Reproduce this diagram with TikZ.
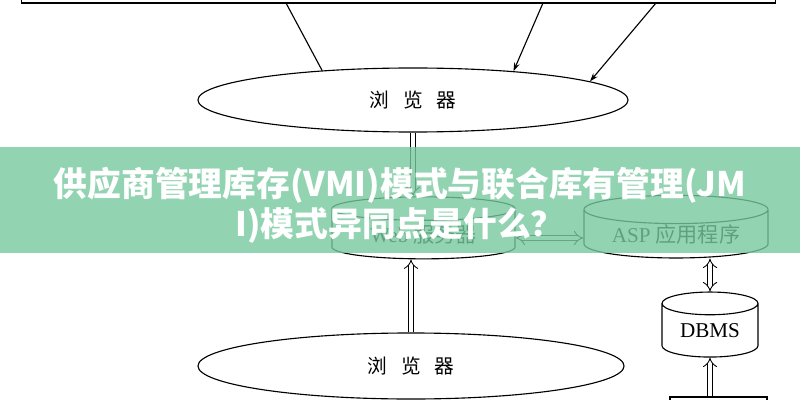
\documentclass[tikz,border=0pt]{standalone}
\usepackage{fontspec}
\setmainfont{Liberation Serif}
\newfontfamily\cjk{Noto Sans CJK SC}
\usetikzlibrary{shapes.geometric,arrows.meta}
\definecolor{bandgreen}{RGB}{119,201,159}
\begin{document}
\begin{tikzpicture}[x=0.025cm, y=-0.025cm, line width=0.8pt,
  can/.style={cylinder, draw, shape border rotate=90, inner sep=0pt},
  pipe/.style={double, double distance=3pt, line width=0.6pt}]
  \useasboundingbox (0,0) rectangle (800,400);
  \clip (0,0) rectangle (800,400);
  % Nodes
  \node (portal) [rectangle, draw, minimum width=18.825cm, minimum height=1.15cm] at (398.5,-20) {};
  \node (browserA) [ellipse, draw, minimum width=10.75cm, minimum height=1.6cm, inner sep=0pt, font=\cjk\fontsize{14}{16}\selectfont] at (413,100) {浏\hspace{0.7em}览\hspace{0.7em}器};
  \node (web) [can, aspect=0.22, minimum width=4.575cm, minimum height=1.55cm, font=\fontsize{15}{17}\selectfont] at (423.5,234) {Web {\cjk 服务器}};
  \node (asp) [can, aspect=0.22, minimum width=4.6cm, minimum height=1.55cm, font=\fontsize{15}{17}\selectfont] at (676,234) {ASP {\cjk 应用程序}};
  \node (dbms) [can, aspect=0.38, minimum width=2.4cm, minimum height=1.625cm, font=\fontsize{15}{17}\selectfont] at (710,330.5) {DBMS};
  \node (data) [rectangle, draw, minimum width=2.425cm, minimum height=1cm] at (718.5,417) {};
  \node (browserB) [ellipse, draw, minimum width=10.65cm, minimum height=1.65cm, inner sep=0pt, font=\cjk\fontsize{14}{16}\selectfont] at (411,366) {浏\hspace{0.7em}览\hspace{0.7em}器};
  \coordinate (t1) at (286,3);
  \coordinate (t2) at (543,3);
  \coordinate (t3) at (656,3);
  % Arrow
  \draw (t1) -- (browserA.162);
  \draw[-{Stealth[length=6pt, width=4pt]}] (t2) -- (browserA.16);
  \draw[-{Stealth[length=6pt, width=4pt]}] (t3) -- (browserA.6);
  \draw[pipe, -{Implies[length=4pt]}] (browserA.south) -- (browserA.south |- web.north);
  \draw[pipe, -{Implies[length=4pt]}] (browserB.north) -- (browserB.north |- web.south);
  \draw[pipe, {Implies[length=4pt]}-{Implies[length=4pt]}] ([yshift=-0.1cm]web.east) -- ([yshift=-0.1cm]asp.west);
  \draw[pipe, {Implies[length=4pt]}-{Implies[length=4pt]}] (dbms.north |- asp.south) -- (dbms.north);
  \draw[pipe, -{Implies[length=4pt]}] (data.north -| dbms.south) -- (dbms.south);
  % Header
  \node (band) [rectangle, fill=bandgreen, fill opacity=0.8, minimum width=20cm, minimum height=2.65cm, inner sep=0pt] at (400,200) {};
  \node (title) [align=center, text=white, font=\cjk\bfseries\fontsize{24}{28.5}\selectfont] at (400,205) {供应商管理库存(VMI)模式与联合库有管理(JM\\I)模式异同点是什么？};
\end{tikzpicture}
\end{document}
